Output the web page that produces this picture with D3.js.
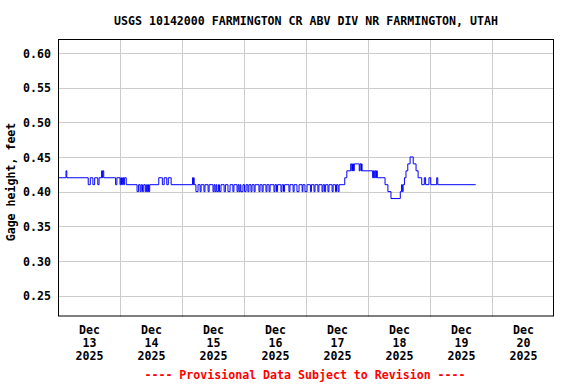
<!DOCTYPE html>
<html>
<head>
<meta charset="utf-8">
<script src="https://cdn.jsdelivr.net/npm/d3@7"></script>
<style>
  html, body { margin: 0; padding: 0; background: #fff; }
  svg { display: block; }
  text { font-family: "DejaVu Sans Mono", "Liberation Mono", monospace; font-weight: bold; font-size: 11.6px; }
</style>
</head>
<body>
<script>
// ---- Data ----
const chartTitle = "USGS 10142000 FARMINGTON CR ABV DIV NR FARMINGTON, UTAH";
const yAxisLabel = "Gage height, feet";
const footerText = "---- Provisional Data Subject to Revision ----";
const yTicks = [0.25, 0.30, 0.35, 0.40, 0.45, 0.50, 0.55, 0.60];
const xDays = ["13", "14", "15", "16", "17", "18", "19", "20"];
const xMonth = "Dec";
const xYear = "2025";
// Step series: [hours since 2025-12-13 00:00, gage height (ft)] at each level change
const gageSteps = [
  [0,.42],[3.1,.43],[3.4,.42],
  [11.7,.41],[12.5,.42],[13.5,.41],[14.2,.42],[15.4,.41],[15.9,.42],
  [16.9,.43],[17.1,.42],[17.3,.43],[17.7,.42],
  [22.3,.41],[22.8,.42],
  [24.0,.41],[24.3,.42],[24.6,.41],[25.0,.42],[25.4,.41],[25.7,.42],[26.4,.41],
  [30.6,.40],[31.2,.41],[31.8,.40],[32.2,.41],[32.7,.40],[33.2,.41],[33.8,.40],[34.3,.41],[34.6,.40],[35.0,.41],[35.2,.40],[35.5,.41],
  [39.0,.42],[40.4,.41],[41.1,.42],[42.1,.41],[42.7,.42],[43.8,.41],
  [52.1,.42],[52.3,.41],[52.5,.42],[52.7,.41],
  [53.4,.40],[54.2,.41],[55.0,.40],[55.4,.41],[56.5,.40],[56.9,.41],[58.1,.40],[58.5,.41],
  [60.0,.40],[60.4,.41],[60.8,.40],[61.2,.41],[61.5,.40],[62.1,.41],[62.5,.40],[63.1,.41],
  [64.3,.40],[64.8,.41],[65.8,.40],[66.6,.41],[67.7,.40],[68.1,.41],[69.3,.40],[69.7,.41],
  [70.1,.40],[70.5,.41],[70.8,.40],[71.6,.41],[72.2,.40],[72.8,.41],[73.5,.40],[73.9,.41],
  [74.7,.40],[75.1,.41],[75.9,.40],[76.3,.41],[77.8,.40],[78.2,.41],[79.0,.40],[79.4,.41],
  [80.5,.40],[80.9,.41],[81.7,.40],[82.1,.41],[83.6,.40],[84.0,.41],[84.6,.40],[85.0,.41],
  [86.3,.40],[86.7,.41],[87.3,.40],[87.7,.41],[89.4,.40],[89.8,.41],[91.0,.40],[91.4,.41],
  [92.5,.40],[93.3,.41],[94.5,.40],[94.8,.41],[95.6,.40],[96.4,.41],[97.7,.40],[98.1,.41],
  [99.1,.40],[99.5,.41],[100.6,.40],[101.0,.41],[102.2,.40],[102.6,.41],[103.2,.40],[103.6,.41],
  [104.5,.40],[104.9,.41],[106.1,.40],[106.5,.41],[107.4,.40],[107.8,.41],[108.4,.40],[108.8,.41],
  [111.0,.42],[111.8,.43],[113.3,.44],[113.7,.43],[114.0,.44],[114.4,.43],[114.7,.44],
  [116.6,.43],[116.9,.44],[117.3,.43],[117.5,.44],[117.7,.43],
  [121.8,.42],[122.1,.43],[122.4,.42],[122.7,.43],[123.0,.42],[123.3,.43],[123.6,.42],
  [126.6,.41],[127.7,.40],[128.9,.39],[132.5,.40],[133.0,.41],[133.3,.40],[133.6,.41],
  [134.1,.42],[134.7,.43],[135.4,.44],[136.3,.45],[137.5,.44],[138.6,.43],[139.4,.42],
  [140.8,.41],[141.8,.42],[142.3,.41],[143.6,.42],[144.3,.41],[146.6,.42],[147.0,.41],[161.7,.41]
];

// ---- Layout ----
const W = 576, H = 384;
const m = { left: 58, right: 22, top: 39, bottom: 67.5 };
const start = new Date(2025, 11, 13);
const end = new Date(2025, 11, 21);
const HOUR = 3600e3;

const svg = d3.select("body").append("svg").attr("width", W).attr("height", H);

const x = d3.scaleTime().domain([start, end]).range([m.left, W - m.right]);
const y = d3.scaleLinear().domain([0.22, 0.62]).range([H - m.bottom, m.top]);

const midnights = xDays.slice(1).map((d, i) => new Date(2025, 11, 14 + i));
const noons = xDays.map((d, i) => new Date(2025, 11, 13 + i, 12));

// gridlines
svg.append("g").attr("transform", `translate(0,${H - m.bottom})`)
  .call(d3.axisBottom(x).tickValues(midnights).tickSize(-(H - m.bottom - m.top)).tickFormat(""))
  .call(g => g.select(".domain").remove())
  .call(g => g.selectAll("line").attr("stroke", "#cccccc").attr("shape-rendering", "crispEdges"));
svg.append("g").attr("transform", `translate(${m.left},0)`)
  .call(d3.axisLeft(y).tickValues(yTicks).tickSize(-(W - m.left - m.right)).tickFormat(""))
  .call(g => g.select(".domain").remove())
  .call(g => g.selectAll("line").attr("stroke", "#cccccc").attr("shape-rendering", "crispEdges"));

// y tick labels
svg.append("g").attr("transform", `translate(${m.left},0)`)
  .call(d3.axisLeft(y).tickValues(yTicks).tickSize(0).tickPadding(7).tickFormat(d3.format(".2f")))
  .call(g => g.select(".domain").remove())
  .call(g => g.selectAll("text").attr("fill", "#000").attr("dy", "0.36em")
    .style("font-family", "'DejaVu Sans Mono', monospace").style("font-size", "11.6px").style("font-weight", "bold"));

// x tick labels (three lines)
const xg = svg.append("g").attr("transform", `translate(0,${H - m.bottom})`)
  .call(d3.axisBottom(x).tickValues(noons).tickSize(0).tickFormat(""))
  .call(g => g.select(".domain").remove());
xg.selectAll(".tick").each(function(d, i) {
  const t = d3.select(this).select("text").attr("y", 0).attr("dy", null).attr("fill", "#000")
    .style("font-family", "'DejaVu Sans Mono', monospace").style("font-size", "11.6px").style("font-weight", "bold");
  t.append("tspan").attr("x", 0).attr("y", 17.5).text(xMonth);
  t.append("tspan").attr("x", 0).attr("y", 30.5).text(xDays[i]);
  t.append("tspan").attr("x", 0).attr("y", 43.5).text(xYear);
});

// data line
const pts = gageSteps.map(([h, v]) => ({ t: new Date(start.getTime() + h * HOUR), v }));
svg.append("path").datum(pts)
  .attr("fill", "none").attr("stroke", "#0000ff").attr("stroke-width", 1)
  .attr("d", d3.line().x(d => x(d.t)).y(d => y(d.v)).curve(d3.curveStepAfter));

// frame
svg.append("rect").attr("x", m.left + 0.5).attr("y", m.top + 0.5)
  .attr("width", W - m.left - m.right - 1).attr("height", H - m.top - m.bottom - 1)
  .attr("fill", "none").attr("stroke", "#000").attr("stroke-width", 1);

// title
svg.append("text").attr("x", 306).attr("y", 25).attr("text-anchor", "middle").attr("fill", "#000").text(chartTitle);

// y axis label
svg.append("text").attr("transform", "translate(15,182) rotate(-90)")
  .attr("text-anchor", "middle").attr("fill", "#000").text(yAxisLabel);

// footer
svg.append("text").attr("x", 305).attr("y", 379).attr("text-anchor", "middle").attr("fill", "#ff0000").text(footerText);
</script>
</body>
</html>
